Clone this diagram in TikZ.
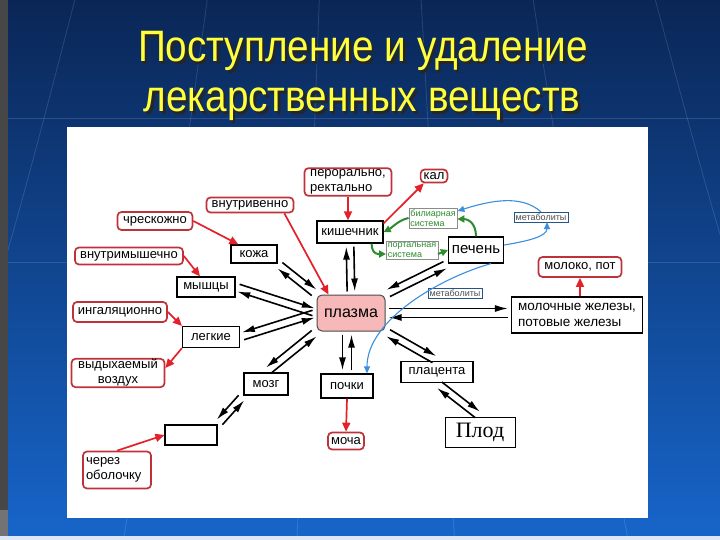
\documentclass[tikz,border=0pt]{standalone}
\usepackage{fontspec}
\setmainfont{Liberation Sans}
\newfontfamily\titlefont[FakeStretch=0.88]{Liberation Sans}
\newfontfamily\plodfont{Liberation Serif}
\usetikzlibrary{shapes,arrows.meta,positioning}
\definecolor{slidetop}{HTML}{0A2656}
\definecolor{slidebot}{HTML}{1765CA}
\definecolor{titleyellow}{HTML}{FFFF3C}
\definecolor{boxred}{HTML}{BE323A}
\definecolor{arrred}{HTML}{E4202A}
\definecolor{plasmapink}{HTML}{F6B8B8}
\definecolor{greentext}{HTML}{2E8B2E}
\definecolor{bluearr}{HTML}{3A8FE0}
\newcommand\lbl{\fontsize{13}{15}\selectfont}
\newcommand\smalllbl{\fontsize{9}{10.5}\selectfont}

\begin{document}
\begin{tikzpicture}[x=1pt,y=-1pt,
	box/.style={draw,line width=1.2pt,fill=white,inner xsep=3pt,inner ysep=2pt,font=\lbl},
	redbox/.style={draw=boxred,line width=1.7pt,rounded corners=4pt,fill=white,inner xsep=3pt,inner ysep=1.5pt,font=\lbl},
	greenbox/.style={draw=black!45,line width=.5pt,fill=white,text=greentext,inner sep=1.5pt,align=left,font=\smalllbl},
	bluebox/.style={draw=bluearr!60!black,line width=.5pt,fill=white,text=black!70,inner sep=1.5pt,font=\smalllbl},
	titletext/.style={font=\titlefont\fontsize{44}{50}\selectfont,anchor=base},
	blk/.style={line width=1.6pt,-{Latex[length=13pt,width=7pt]},shorten >=3pt,shorten <=3pt},
	redarr/.style={draw=arrred,line width=1.7pt,-{Triangle[length=9pt,width=8pt]}},
	greenarr/.style={draw=greentext,line width=2pt,-{Triangle[length=7pt,width=7pt]}},
	bluecurve/.style={draw=bluearr,line width=1.1pt,-{Triangle[length=7pt,width=6pt]}},
	gridline/.style={draw=white,opacity=.13,line width=.8pt}]

	\useasboundingbox (0,0) rectangle (720,540);
	\clip (0,0) rectangle (720,540);

	% slide background
	\shade[top color=slidetop,bottom color=slidebot] (0,0) rectangle (720,540);
	\foreach \a in {-420,-280,-150,-40,60,170,290,420} \draw[gridline] (360+\a,-20) .. controls (360+1.25*\a,250) .. (360+1.6*\a,560);
	\draw[gridline] (0,118) -- (720,118);
	\draw[gridline] (0,262) -- (720,262);
	\fill[black!72] (0,0) rectangle (8,510);
	\fill[black!55] (0,510) rectangle (8,540);
	\fill[white!85!slidebot] (0,536) rectangle (720,540);

	% title, with its shadow
	\node[titletext,text=black!85] at (365.5,64.5) {Поступление и удаление};
	\node[titletext,text=black!85] at (364.5,114.5) {лекарственных веществ};
	\node[titletext,text=titleyellow] (title1) at (363,62) {Поступление и удаление};
	\node[titletext,text=titleyellow] (title2) at (362,112) {лекарственных веществ};

	\fill[white] (67,127) rectangle (648,518);

	% nodes
	\node[draw=black!70,line width=1pt,fill=plasmapink,rounded corners=5pt,minimum width=68pt,minimum height=36pt,font=\fontsize{16}{18}\selectfont] (plazma) at (351,313) {плазма};
	\node[box,minimum width=66pt,minimum height=22pt] (kishechnik) at (350,232) {кишечник};
	\node[box,minimum width=46pt,minimum height=18pt] (koza) at (254,254) {кожа};
	\node[box,minimum width=58pt,minimum height=20pt] (myshcy) at (206,287) {мышцы};
	\node[box,minimum width=57pt,minimum height=21pt] (legkie) at (211,337) {легкие};
	\node[box,minimum width=44pt,minimum height=22pt] (mozg) at (266,384) {мозг};
	\node[box,minimum width=52pt,minimum height=20pt] (pustoy) at (191,435) {};
	\node[box,minimum width=52pt,minimum height=24pt] (pochki) at (347,386) {почки};
	\node[box,minimum width=72pt,minimum height=21pt] (placenta) at (437,372) {плацента};
	\node[box,line width=.9pt,minimum width=70pt,minimum height=30pt,font=\plodfont\fontsize{22}{24}\selectfont] (plod) at (480,432) {Плод};
	\node[box,minimum width=55pt,minimum height=26pt,font=\fontsize{15}{17}\selectfont] (pechen) at (476,250) {печень};
	\node[box,align=left,minimum width=131pt,minimum height=36pt,font=\fontsize{13.5}{16}\selectfont] (molochnye) at (577,315) {молочные железы,\\потовые железы};

	\node[redbox,align=left,minimum width=87pt] (peroralno) at (348,182) {перорально,\\ректально};
	\node[redbox,inner ysep=0pt,minimum height=13pt] (kal) at (434,176) {кал};
	\node[redbox,minimum width=75pt,minimum height=18pt] (chreskozhno) at (155,221) {чрескожно};
	\node[redbox,minimum width=87pt,minimum height=15pt,inner ysep=0pt] (vnutrivenno) at (250,205) {внутривенно};
	\node[redbox,minimum width=108pt,minimum height=17pt,inner ysep=0pt] (vnutrimyshechno) at (129,256) {внутримышечно};
	\node[redbox,minimum width=94pt,minimum height=20pt] (ingalyacionno) at (120,312) {ингаляционно};
	\node[redbox,align=center,minimum width=93pt,inner ysep=0.5pt] (vydyhaemy) at (118,373) {выдыхаемый\\воздух};
	\node[redbox,align=left,text width=62pt,minimum height=37pt] (cherez) at (117,470) {через\\оболочку};
	\node[redbox,minimum height=17pt,inner ysep=0pt] (mocha) at (346,441) {моча};
	\node[redbox,minimum width=83pt,minimum height=20pt] (moloko) at (580,267) {молоко, пот};

	\node[greenbox] (biliarnaya) at (433,218) {билиарная\\система};
	\node[greenbox] (portalnaya) at (412,250) {портальная\\система};
	\node[bluebox] (metab1) at (541,217) {метаболиты};
	\node[bluebox] (metab2) at (455,293) {метаболиты};

	% exchange with plasma: two opposite arrows side by side
	\foreach \a/\b/\s in {koza.south east/plazma.north west/51,myshcy.east/plazma.west/72,plazma.west/legkie.east/107,plazma.south west/mozg.north/130,kishechnik.south/plazma.north/0,plazma.north east/pechen.south west/297,plazma.south east/placenta.north/59,mozg.south west/pustoy.north east/138,placenta.south/plod.north/52}
	{
		\draw[blk,transform canvas={shift={(\s:3.8pt)}}] (\a) -- (\b);
		\draw[blk,transform canvas={shift={(\s+180:3.8pt)}}] (\b) -- (\a);
	}
	\draw[blk,transform canvas={shift={(180:4.5pt)}}] (pochki.north |- plazma.south) -- (pochki.north);
	\draw[blk,transform canvas={shift={(0:4.5pt)}}] (pochki.north) -- (pochki.north |- plazma.south);
	\draw[blk,transform canvas={shift={(90:4.5pt)}}] (plazma.east) -- (plazma.east -| molochnye.west);
	\draw[blk,transform canvas={shift={(270:4.5pt)}}] (plazma.east -| molochnye.west) -- (plazma.east);

	% routes in and out
	\draw[redarr] (chreskozhno.east) -- ([xshift=8pt]koza.north west);
	\draw[redarr] (vnutrimyshechno.east) -- ([xshift=-6pt]myshcy.north);
	\draw[redarr] (ingalyacionno.east) -- (legkie.north west);
	\draw[redarr] (legkie.south west) -- ([yshift=5pt]vydyhaemy.east);
	\draw[redarr] ([xshift=-10pt]vnutrivenno.south east) -- ([xshift=12pt]plazma.north west);
	\draw[redarr] (peroralno.south) -- (kishechnik.north -| peroralno.south);
	\draw[redarr] ([yshift=-3pt]kishechnik.north east) -- ([xshift=4pt]kal.south west);
	\draw[redarr] (pochki.south) -- (mocha.north);
	\draw[redarr] (molochnye.north -| moloko.south) -- (moloko.south);
	\draw[redarr] (cherez.north) -- (pustoy.west);

	% liver circulation
	\draw[greenarr] (biliarnaya.west) .. controls +(-10,2) and +(8,-4) .. (kishechnik.east);
	\draw[greenarr] ([xshift=-12pt]kishechnik.south east) .. controls +(0,12) and +(-6,0) .. ([yshift=-4pt]portalnaya.west);
	\draw[greenarr] ([yshift=-4pt]portalnaya.east) -- (pechen.west);
	\draw[greenarr] (pechen.north) .. controls +(0,-14) and +(10,0) .. ([yshift=-1pt]biliarnaya.east);
	\draw[bluecurve] ([yshift=5pt]pechen.east) .. controls +(25,-4) and +(0,14) .. ([xshift=6pt]metab1.south);
	\draw[bluecurve] (metab1.north) .. controls +(-20,-18) and +(32,-10) .. ([yshift=7pt]biliarnaya.east);
	\draw[bluecurve] ([xshift=15pt]pechen.south) .. controls (440,278) and (367,320) .. ([xshift=20pt]pochki.north);
\end{tikzpicture}
\end{document}
